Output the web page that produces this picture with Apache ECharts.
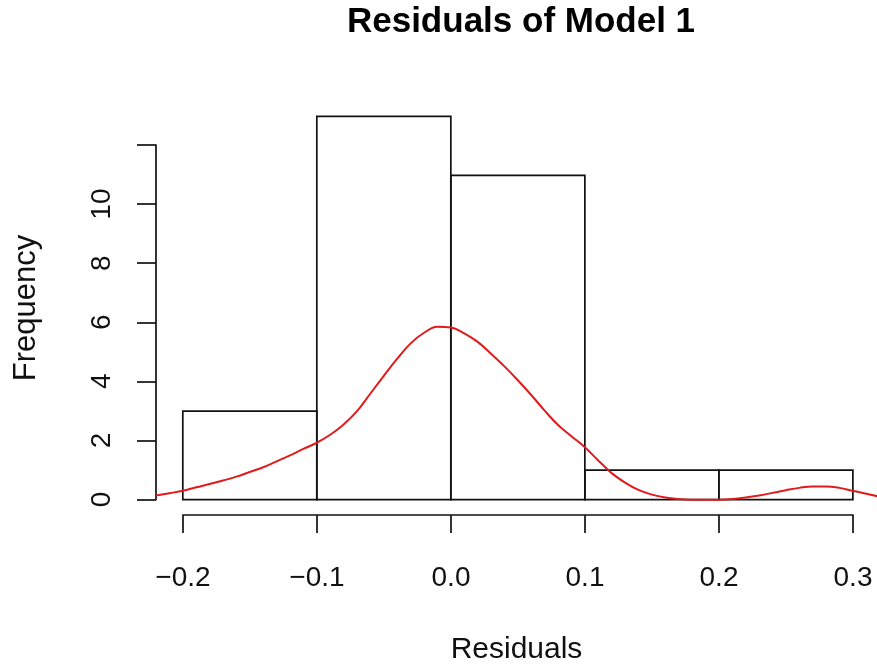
<!DOCTYPE html>
<html><head><meta charset="utf-8">
<script src="https://cdn.jsdelivr.net/npm/echarts@6/dist/echarts.min.js"></script>
<style>html,body{margin:0;padding:0;background:#fff}#c{width:877px;height:667px}</style>
</head><body><div id="c"></div>
<script>
var binEdges = [-0.2, -0.1, 0.0, 0.1, 0.2, 0.3];
var counts = [3, 13, 11, 1, 1];
var curveX = [-0.22, -0.21, -0.20, -0.19, -0.18, -0.17, -0.16, -0.15, -0.14, -0.13, -0.12, -0.11, -0.10,
  -0.09, -0.08, -0.07, -0.06, -0.05, -0.04, -0.03, -0.02, -0.01, 0.00, 0.01, 0.02, 0.03, 0.04, 0.05,
  0.06, 0.07, 0.08, 0.09, 0.10, 0.11, 0.12, 0.13, 0.14, 0.15, 0.16, 0.17, 0.18, 0.19, 0.20, 0.21,
  0.22, 0.23, 0.24, 0.25, 0.26, 0.27, 0.28, 0.29, 0.30, 0.31, 0.32];
var curveY = [0.14, 0.22, 0.30, 0.42, 0.53, 0.65, 0.78, 0.94, 1.10, 1.30, 1.50, 1.72, 1.93,
  2.20, 2.55, 3.00, 3.60, 4.20, 4.78, 5.30, 5.66, 5.86, 5.84, 5.64, 5.35, 4.95, 4.52, 4.05,
  3.55, 3.02, 2.53, 2.15, 1.78, 1.33, 0.90, 0.58, 0.33, 0.17, 0.07, 0.02, 0.0, 0.0, 0.0, 0.02,
  0.07, 0.14, 0.23, 0.32, 0.40, 0.45, 0.45, 0.40, 0.30, 0.20, 0.10];
var xTickLabels = ['\u22120.2', '\u22120.1', '0.0', '0.1', '0.2', '0.3'];
var yTickLabels = ['0', '2', '4', '6', '8', '10', ''];

var FONT = '"Liberation Sans", Arial, sans-serif';
var bins = counts.map(function (c, i) { return [binEdges[i], binEdges[i + 1], c]; });
var curve = curveX.map(function (x, i) { return [x, curveY[i]]; });
var AX = '#111';

var chart = echarts.init(document.getElementById('c'), null, {renderer: 'canvas'});
chart.setOption({
  animation: false,
  backgroundColor: '#ffffff',
  title: {
    text: 'Residuals of Model 1',
    left: 516, top: 0, textAlign: 'center',
    textStyle: {fontFamily: FONT, fontSize: 35, fontWeight: 'bold', color: '#000'}
  },
  grid: [
    {left: 156, top: 101, width: 721, height: 414, containLabel: false, outerBoundsMode: 'none'},
    {left: 183, top: 515, width: 670, height: 1, containLabel: false, outerBoundsMode: 'none'},
    {left: 156, top: 145, width: 1, height: 354.5, containLabel: false, outerBoundsMode: 'none'}
  ],
  xAxis: [
    {gridIndex: 0, type: 'value', min: -0.22, max: 0.318,
     axisLine: {show: false}, axisTick: {show: false}, axisLabel: {show: false}, splitLine: {show: false},
     name: 'Residuals', nameLocation: 'middle', nameGap: 120,
     nameTextStyle: {fontFamily: FONT, fontSize: 30, color: '#111'}},
    {gridIndex: 1, type: 'value', min: -0.2, max: 0.3, interval: 0.1, position: 'top',
     axisLine: {show: true, onZero: false, lineStyle: {color: AX, width: 1.7}},
     axisTick: {show: true, inside: true, length: 18, lineStyle: {color: AX, width: 1.7}},
     axisLabel: {show: false}, splitLine: {show: false}},
    {gridIndex: 1, type: 'value', min: -0.2, max: 0.3, interval: 0.1, position: 'bottom',
     axisLine: {show: false}, axisTick: {show: false}, splitLine: {show: false},
     axisLabel: {show: true, margin: 48, color: '#111', fontFamily: FONT, fontSize: 28,
       formatter: function (v) { return xTickLabels[Math.round((v + 0.2) * 10)]; }}},
    {gridIndex: 2, type: 'value', min: 0, max: 1, show: false}
  ],
  yAxis: [
    {gridIndex: 0, type: 'value', min: -0.52, max: 13.52,
     axisLine: {show: false}, axisTick: {show: false}, axisLabel: {show: false}, splitLine: {show: false},
     name: 'Frequency', nameLocation: 'middle', nameGap: 114,
     nameTextStyle: {fontFamily: FONT, fontSize: 31, color: '#111'}},
    {gridIndex: 1, type: 'value', min: 0, max: 1, show: false},
    {gridIndex: 2, type: 'value', min: 0, max: 12, interval: 2, position: 'left',
     axisLine: {show: true, onZero: false, lineStyle: {color: AX, width: 1.7}},
     axisTick: {show: true, length: 19, lineStyle: {color: AX, width: 1.7}},
     splitLine: {show: false},
     axisLabel: {show: true, rotate: 90, margin: 40, color: '#111', fontFamily: FONT, fontSize: 28,
       formatter: function (v) { return yTickLabels[Math.round(v / 2)]; }}}
  ],
  series: [
    {type: 'custom', xAxisIndex: 0, yAxisIndex: 0, data: bins, clip: false,
     renderItem: function (params, api) {
       var p0 = api.coord([api.value(0), api.value(2)]);
       var p1 = api.coord([api.value(1), 0]);
       return {type: 'rect',
         shape: {x: p0[0], y: p0[1], width: p1[0] - p0[0], height: p1[1] - p0[1]},
         style: {fill: 'none', stroke: AX, lineWidth: 1.7}};
     }},
    {type: 'line', xAxisIndex: 0, yAxisIndex: 0, data: curve, smooth: 0.4, symbol: 'none',
     clip: true, lineStyle: {color: '#e01b1b', width: 2}}
  ]
});
</script>
</body></html>
